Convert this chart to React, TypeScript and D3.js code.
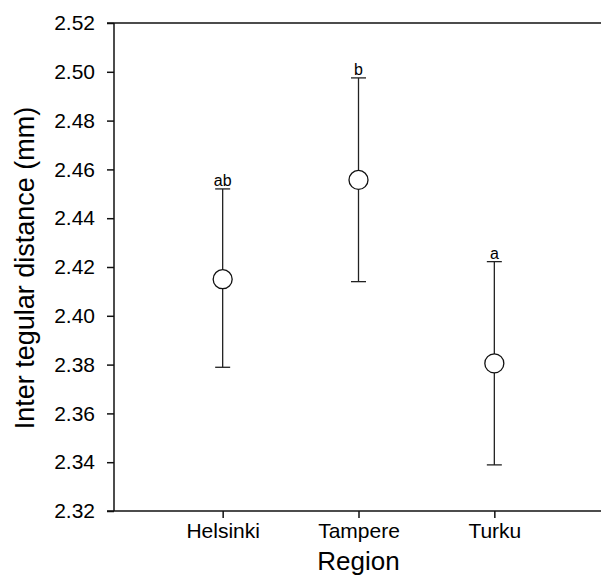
import React, { useEffect, useRef } from 'react';
import * as d3 from 'd3';

const regions = ['Helsinki', 'Tampere', 'Turku'];
const means = [2.415, 2.4557, 2.3805];
const upper = [2.452, 2.4975, 2.4222];
const lower = [2.3789, 2.414, 2.3389];
const letters = ['ab', 'b', 'a'];
const yTicks = [2.32, 2.34, 2.36, 2.38, 2.4, 2.42, 2.44, 2.46, 2.48, 2.5, 2.52];

const FONT = "Arial, 'Liberation Sans', sans-serif";

const App = () => {
  const svgRef = useRef<SVGSVGElement>(null);
  const width = 601;
  const height = 575;

  useEffect(() => {
    const svg = d3.select(svgRef.current);
    svg.selectAll('*').remove();

    const left = 114;
    const top = 23;
    const bottom = 511;
    const right = 603;

    const x = d3.scaleLinear().domain([0.2, 3.8]).range([left, right]);
    const y = d3.scaleLinear().domain([2.32, 2.52]).range([bottom, top]);

    const g = svg.append('g');

    // y axis
    const yAxis = g.append('g').attr('transform', `translate(${left},0)`)
      .call(d3.axisLeft(y).tickValues(yTicks).tickSize(7).tickPadding(12).tickFormat(d3.format('.2f')));
    yAxis.select('.domain').remove();
    yAxis.selectAll('line').attr('stroke', '#111').attr('stroke-width', 1.5);
    yAxis.selectAll('text').attr('font-family', FONT).attr('font-size', 21).attr('fill', '#000');

    // x axis
    const xAxis = g.append('g').attr('transform', `translate(0,${bottom})`)
      .call(d3.axisBottom(x).tickValues([1, 2, 3]).tickSize(7).tickPadding(5)
        .tickFormat((d) => regions[(d as number) - 1]));
    xAxis.select('.domain').remove();
    xAxis.selectAll('line').attr('stroke', '#111').attr('stroke-width', 1.5);
    xAxis.selectAll('text').attr('font-family', FONT).attr('font-size', 21).attr('fill', '#000');

    // frame lines: left, top, bottom
    g.append('line').attr('x1', left).attr('x2', left).attr('y1', top).attr('y2', bottom)
      .attr('stroke', '#111').attr('stroke-width', 1.5);
    g.append('line').attr('x1', left - 7).attr('x2', width).attr('y1', top).attr('y2', top)
      .attr('stroke', '#111').attr('stroke-width', 1.5);
    g.append('line').attr('x1', left - 7).attr('x2', width).attr('y1', bottom).attr('y2', bottom)
      .attr('stroke', '#111').attr('stroke-width', 1.5);

    // error bars
    const bars = g.selectAll('.bar').data(regions).enter().append('g').attr('class', 'bar');
    bars.append('line')
      .attr('x1', (d, i) => x(i + 1)).attr('x2', (d, i) => x(i + 1))
      .attr('y1', (d, i) => y(upper[i])).attr('y2', (d, i) => y(lower[i]))
      .attr('stroke', '#222').attr('stroke-width', 1.3);
    bars.append('line')
      .attr('x1', (d, i) => x(i + 1) - 7.5).attr('x2', (d, i) => x(i + 1) + 7.5)
      .attr('y1', (d, i) => y(upper[i])).attr('y2', (d, i) => y(upper[i]))
      .attr('stroke', '#222').attr('stroke-width', 1.3);
    bars.append('line')
      .attr('x1', (d, i) => x(i + 1) - 7.5).attr('x2', (d, i) => x(i + 1) + 7.5)
      .attr('y1', (d, i) => y(lower[i])).attr('y2', (d, i) => y(lower[i]))
      .attr('stroke', '#222').attr('stroke-width', 1.3);
    bars.append('circle')
      .attr('cx', (d, i) => x(i + 1)).attr('cy', (d, i) => y(means[i])).attr('r', 9.5)
      .attr('fill', '#fff').attr('stroke', '#111').attr('stroke-width', 1.3);
    bars.append('text')
      .attr('x', (d, i) => x(i + 1)).attr('y', (d, i) => y(upper[i]) - 3)
      .attr('text-anchor', 'middle').attr('font-family', FONT).attr('font-size', 16)
      .text((d, i) => letters[i]);

    // axis titles
    svg.append('text')
      .attr('x', (left + right) / 2).attr('y', 570)
      .attr('text-anchor', 'middle').attr('font-family', FONT).attr('font-size', 26)
      .text('Region');
    svg.append('text')
      .attr('transform', `translate(34,268) rotate(-90)`)
      .attr('text-anchor', 'middle').attr('font-family', FONT).attr('font-size', 27)
      .text('Inter tegular distance (mm)');
  }, []);

  return (
    <svg ref={svgRef} width={width} height={height}
      style={{ position: 'absolute', left: 0, top: 0, background: '#fff' }}></svg>
  );
};

export default App;
